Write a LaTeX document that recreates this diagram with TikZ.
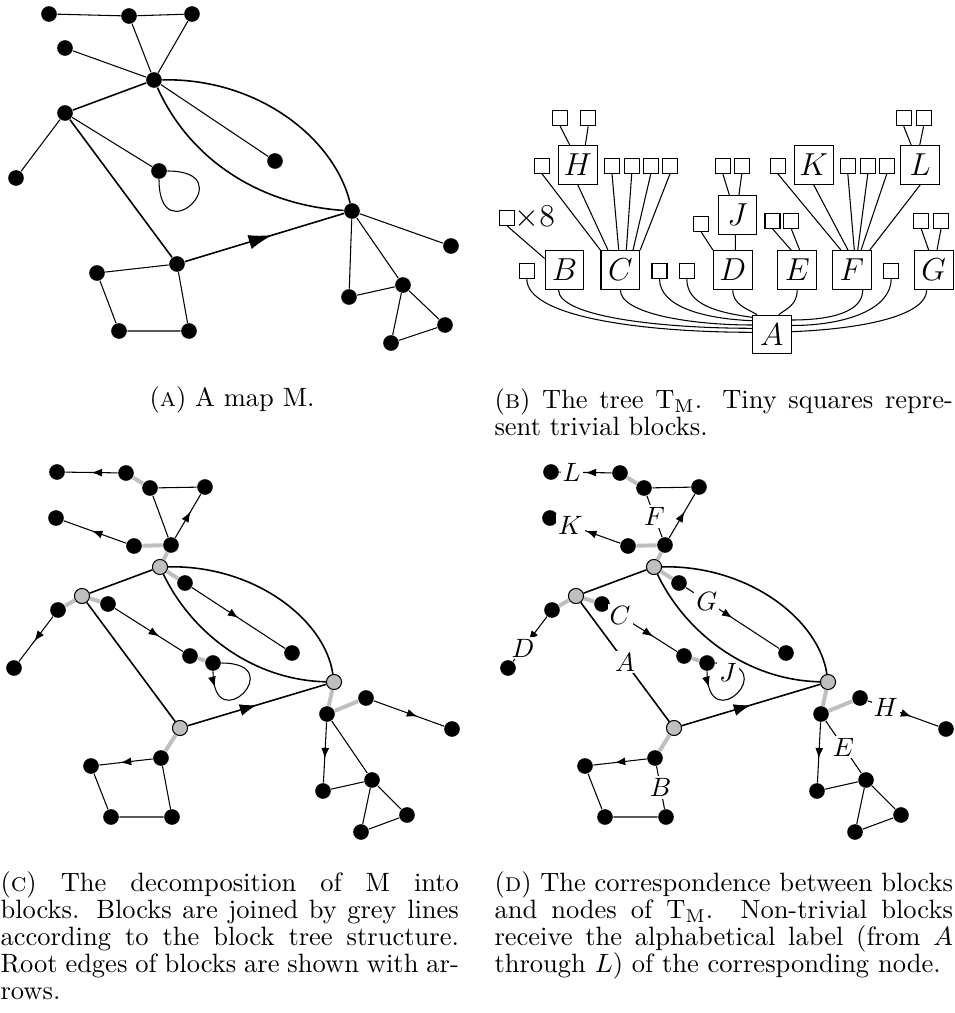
\documentclass[tikz,border=0pt]{standalone}
\usetikzlibrary{arrows.meta,decorations.markings,calc}
\newcommand\blockmap[1]{%
\node[dot] (#1L1) at (57,472) {};
\node[dot] (#1L2) at (126,473) {};
\node[dot] (#1F1) at (150,488) {};
\node[dot] (#1F2) at (205,487) {};
\node[dot] (#1F3) at (171,545) {};
\node[dot] (#1K1) at (56,518) {};
\node[dot] (#1K2) at (134,546) {};
\node[gdot] (#1v) at (160,567) {};
\node[gdot] (#1w) at (82,596) {};
\node[dot] (#1D1) at (58,610) {};
\node[dot] (#1D2) at (14,668) {};
\node[dot] (#1C1) at (108,604) {};
\node[dot] (#1C2) at (190,656) {};
\node[dot] (#1J) at (213,663) {};
\node[dot] (#1G1) at (185,583) {};
\node[dot] (#1G2) at (292,653) {};
\node[gdot] (#1u) at (334,682) {};
\node[gdot] (#1x) at (180,728) {};
\node[dot] (#1B1) at (161,758) {};
\node[dot] (#1B2) at (91,766) {};
\node[dot] (#1B3) at (111,817) {};
\node[dot] (#1B4) at (172,817) {};
\node[dot] (#1E1) at (327,714) {};
\node[dot] (#1H1) at (366,698) {};
\node[dot] (#1H2) at (452,729) {};
\node[dot] (#1E2) at (323,791) {};
\node[dot] (#1E3) at (372,780) {};
\node[dot] (#1T2) at (407,815) {};
\node[dot] (#1T3) at (361,832) {};
\draw[greyln] (#1L2)--(#1F1) (#1K2)--(#1F3) (#1F3)--(#1v) (#1v)--(#1G1)
  (#1w)--(#1D1) (#1w)--(#1C1) (#1C2)--(#1J) (#1x)--(#1B1) (#1u)--(#1E1) (#1E1)--(#1H1);
\draw[ln] (#1F1)--(#1F2) (#1F1)--(#1F3) (#1B2)--(#1B3) (#1B3)--(#1B4) (#1B4)--(#1B1)
  (#1E2)--(#1E3) (#1E1)--(#1E3) (#1E3)--(#1T2) (#1T2)--(#1T3) (#1T3)--(#1E3);
\draw[ln,mtip=0.5] (#1L2)--(#1L1);
\draw[ln,mtip=0.55] (#1K2)--(#1K1);
\draw[ln,mtip=0.6] (#1F3)--(#1F2);
\draw[ln,mtip=0.55] (#1D1)--(#1D2);
\draw[ln,mtip=0.65] (#1C1)--(#1C2);
\draw[ln,mtip=0.5] (#1G1)--(#1G2);
\draw[ln,mtip=0.6] (#1B1)--(#1B2);
\draw[ln,mtip=0.62] (#1H1)--(#1H2);
\draw[ln,mtip=0.6] (#1E1)--(#1E2);
\draw[ln,mtip=0.15] (#1J) .. controls +(0,78) and +(78,0) .. (#1J);
\draw[mainln] (#1v)--(#1w) (#1w)--(#1x);
\draw[mainln] (#1v) .. controls (255,565) and (325,620) .. (#1u);
\draw[mainln] (#1v) .. controls (190,630) and (250,680) .. (#1u);
\draw[mainln,midtip=0.5] (#1x)--(#1u);
}
\begin{document}
\begin{tikzpicture}[x=0.3774pt,y=-0.3774pt,
  dot/.style={circle,fill=black,inner sep=0pt,minimum size=5.9pt},
  gdot/.style={circle,draw=black,fill=black!25,line width=0.4pt,inner sep=0pt,minimum size=5.7pt},
  ln/.style={line width=0.4pt},
  mainln/.style={line width=0.6pt},
  greyln/.style={line width=1.5pt,draw=black!25},
  mtip/.style={postaction={decorate},decoration={markings,mark=at position #1 with {\arrow{Latex[length=4pt,width=3pt]}}}},
  midtip/.style={postaction={decorate},decoration={markings,mark=at position #1 with {\arrow{Latex[length=6.5pt,width=4.5pt]}}}},
  bigmtip/.style={postaction={decorate},decoration={markings,mark=at position #1 with {\arrow{Latex[length=9pt,width=5.5pt]}}}},
  bigbox/.style={draw,line width=0.4pt,minimum size=14.6pt,inner sep=0pt,font=\large},
  tinybox/.style={draw,line width=0.4pt,minimum size=5.66pt,inner sep=0pt},
  tl/.style={line width=0.4pt},
  lab/.style={fill=white,inner sep=0.8pt},
  capt/.style={text width=173pt,align=justify,inner sep=0pt,anchor=north west,font=\fontsize{10pt}{10.2pt}\selectfont}
]
\useasboundingbox (0,0) rectangle (954,1013);

% ---------------- (A) the map M
\node[dot] (a1) at (49,14) {};
\node[dot] (a2) at (129,16) {};
\node[dot] (a3) at (192,14) {};
\node[dot] (a4) at (65,48) {};
\node[dot] (av) at (154,80) {};
\node[dot] (aw) at (65,113) {};
\node[dot] (all) at (16,178) {};
\node[dot] (alp) at (159,171) {};
\node[dot] (aml) at (275,161) {};
\node[dot] (au) at (352,211) {};
\node[dot] (arl) at (451,246) {};
\node[dot] (ax) at (177,264) {};
\node[dot] (as1) at (97,273) {};
\node[dot] (as2) at (119,331) {};
\node[dot] (as3) at (189,331) {};
\node[dot] (at1) at (349,297) {};
\node[dot] (at2) at (403,285) {};
\node[dot] (at3) at (445,325) {};
\node[dot] (at4) at (391,343) {};
\draw[ln] (a1)--(a2) (a2)--(a3) (a2)--(av) (a3)--(av) (a4)--(av) (aw)--(all) (aw)--(alp)
  (av)--(aml) (au)--(arl) (au)--(at1) (au)--(at2) (at1)--(at2) (at2)--(at3) (at2)--(at4)
  (at3)--(at4) (ax)--(as1) (as1)--(as2) (as2)--(as3) (as3)--(ax);
\draw[mainln] (av)--(aw) (aw)--(ax);
\draw[mainln] (av) .. controls (260,78) and (335,140) .. (au);
\draw[mainln] (av) .. controls (190,160) and (260,205) .. (au);
\draw[mainln,bigmtip=0.55] (ax)--(au);
\draw[ln] (alp) .. controls +(0,85) and +(85,0) .. (alp);

% ---------------- (B) the tree T_M
\node[bigbox] (tA) at (771.7,334.5) {$A$};
\node[bigbox] (tB) at (564.5,270) {$B$};
\node[bigbox] (tC) at (620.3,270) {$C$};
\node[bigbox] (tD) at (732.8,270) {$D$};
\node[bigbox] (tE) at (797.2,270) {$E$};
\node[bigbox] (tF) at (851.8,270) {$F$};
\node[bigbox] (tG) at (933.7,270) {$G$};
\node[bigbox] (tH) at (577.8,165) {$H$};
\node[bigbox] (tJ) at (737.4,215) {$J$};
\node[bigbox] (tK) at (813.7,165) {$K$};
\node[bigbox] (tL) at (920.2,165) {$L$};
\node[tinybox] (s1) at (526.8,270.8) {};
\node[tinybox] (s2) at (659.5,270.8) {};
\node[tinybox] (s3) at (686.8,270.8) {};
\node[tinybox] (s4) at (891.2,270.8) {};
\node[tinybox] (s8) at (507.2,218) {};
\node[anchor=west,inner sep=0pt,font=\large] (x8) at (514,218) {$\times 8$};
\node[tinybox] (s5) at (701.2,224) {};
\node[tinybox] (e1) at (772.5,220.8) {};
\node[tinybox] (e2) at (791.3,220.8) {};
\node[tinybox] (g1) at (921.2,220.8) {};
\node[tinybox] (g2) at (941,220.8) {};
\node[tinybox] (h0) at (542,165.8) {};
\node[tinybox] (c1) at (612,165.8) {};
\node[tinybox] (c2) at (631.7,165.8) {};
\node[tinybox] (c3) at (650.8,165.8) {};
\node[tinybox] (c4) at (670,165.8) {};
\node[tinybox] (j1) at (722.8,165.8) {};
\node[tinybox] (j2) at (741.8,165.8) {};
\node[tinybox] (k0) at (777.8,165.8) {};
\node[tinybox] (f1) at (847.8,165.8) {};
\node[tinybox] (f2) at (867.8,165.8) {};
\node[tinybox] (f3) at (886.8,165.8) {};
\node[tinybox] (h1) at (560.2,118.3) {};
\node[tinybox] (h2) at (588.2,118.3) {};
\node[tinybox] (l1) at (903.7,118.3) {};
\node[tinybox] (l2) at (923.6,118.3) {};
% curves to A
\draw[tl] (s1.south) .. controls +(0,40) and +(-100,0) .. ($(tA.west)+(0,-2.2)$);
\draw[tl] ($(tB.south)+(-6,0)$) .. controls +(0,27) and +(-90,0) .. ($(tA.west)+(0,-6.2)$);
\draw[tl] (tC.south) .. controls +(0,24) and +(-60,0) .. ($(tA.west)+(0,-9.5)$);
\draw[tl] (s2.south) .. controls +(0,28) and +(-48,-2) .. ($(tA.west)+(0,-13.8)$);
\draw[tl] (s3.south) .. controls +(0,26) and +(-35,-5) .. ($(tA.west)+(0,-17.2)$);
\draw[tl] (tD.south) .. controls +(0,15) and +(-10,-6) .. ($(tA.north)+(-14.7,0)$);
\draw[tl] (tE.south) .. controls +(0,15) and +(8,-6) .. ($(tA.north)+(7,0)$);
\draw[tl] ($(tF.south)+(11,0)$) .. controls +(0,22) and +(40,0) .. ($(tA.east)+(0,-14.5)$);
\draw[tl] (s4.south) .. controls +(0,30) and +(55,0) .. ($(tA.east)+(0,-9)$);
\draw[tl] ($(tG.south)+(-7,0)$) .. controls +(0,25) and +(75,-3) .. ($(tA.east)+(0,-2.8)$);
% upper edges
\draw[tl] (s8.south) -- (tB.150);
\draw[tl] (h0.south) -- (tC.north west);
\draw[tl] (tH.south) -- ($(tC.north)+(-12.3,0)$);
\draw[tl] (c1.south) -- ($(tC.north)+(-1.6,0)$);
\draw[tl] (c2.south) -- ($(tC.north)+(6,0)$);
\draw[tl] (c3.south) -- ($(tC.north)+(12.7,0)$);
\draw[tl] (c4.south) -- (tC.north east);
\draw[tl] (h1.south) -- ($(tH.north)+(-8,0)$);
\draw[tl] (h2.south) -- ($(tH.north)+(7.5,0)$);
\draw[tl] (s5.south) -- (tD.north west);
\draw[tl] ($(tJ.south)+(-2,0)$) -- ($(tD.north)+(2.6,0)$);
\draw[tl] (j1.south) -- ($(tJ.north)+(-8,0)$);
\draw[tl] (j2.south) -- ($(tJ.north)+(1.5,0)$);
\draw[tl] (e1.south) -- ($(tE.north)+(-6,0)$);
\draw[tl] (e2.south) -- ($(tE.north)+(2.5,0)$);
\draw[tl] (k0.south) -- ($(tF.north)+(-10.8,0)$);
\draw[tl] (tK.south) -- ($(tF.north)+(-3.8,0)$);
\draw[tl] (f1.south) -- ($(tF.north)+(2.5,0)$);
\draw[tl] (f2.south) -- ($(tF.north)+(5.9,0)$);
\draw[tl] (f3.south) -- ($(tF.north)+(9.2,0)$);
\draw[tl] (tL.south) -- ($(tF.north)+(17.9,0)$);
\draw[tl] (g1.south) -- ($(tG.north)+(-5,0)$);
\draw[tl] (g2.south) -- ($(tG.north)+(3.3,0)$);
\draw[tl] (l1.south) -- ($(tL.north)+(-9,0)$);
\draw[tl] (l2.south) -- ($(tL.north)+(-0.5,0)$);

% ---------------- (C) and (D)
\begin{scope}
\blockmap{c}
\end{scope}
\begin{scope}[shift={(494,0)}]
\blockmap{d}
\end{scope}
\node[lab] (lL) at ($(dL2)!0.7!(dL1)$) {$L$};
\node[lab] (lK) at ($(dK2)!0.74!(dK1)$) {$K$};
\node[lab] (lF) at ($(dF1)!0.5!(dF3)$) {$F$};
\node[lab] (lG) at ($(dG1)!0.26!(dG2)$) {$G$};
\node[lab] (lC) at ($(dC1)!0.22!(dC2)$) {$C$};
\node[lab] (lA) at ($(dw)!0.5!(dx)$) {$A$};
\node[lab] (lD) at ($(dD1)!0.66!(dD2)$) {$D$};
\node[lab] (lJ) at ($(dJ)+(21,9)$) {$J$};
\node[lab] (lB) at ($(dB1)!0.5!(dB4)$) {$B$};
\node[lab] (lE) at ($(dE1)!0.5!(dE3)$) {$E$};
\node[lab] (lH) at ($(dH1)!0.3!(dH2)$) {$H$};

% ---------------- captions
\node[anchor=base,inner sep=0pt] (capA) at (232,406) {(\textsc{a}) A map M.};
\node[capt] (capB) at (494,388) {(\textsc{b}) The tree T$_{\mathrm{M}}$.  Tiny squares repre-\linebreak sent trivial blocks.};
\node[capt] (capC) at (0,871) {(\textsc{c}) The decomposition of M into\linebreak blocks. Blocks are joined by grey lines\linebreak according to the block tree structure.\linebreak Root edges of blocks are shown with ar-\linebreak rows.};
\node[capt] (capD) at (494,871) {(\textsc{d}) The correspondence between blocks\linebreak and nodes of T$_{\mathrm{M}}$.  Non-trivial blocks\linebreak receive the alphabetical label (from $A$\linebreak through $L$) of the corresponding node.};
\end{tikzpicture}
\end{document}
